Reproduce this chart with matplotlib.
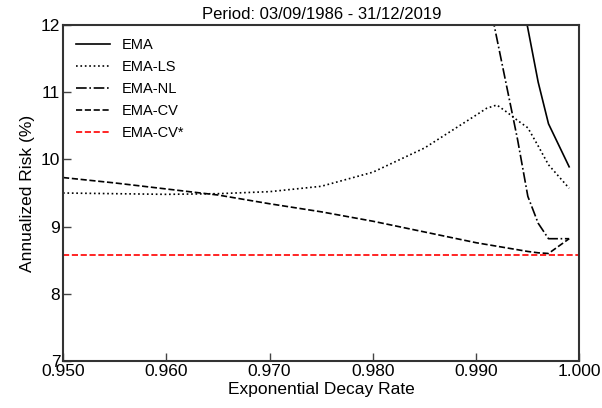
import numpy as np
import matplotlib
matplotlib.use('Agg')
import matplotlib.pyplot as plt

plt.rcParams['font.family'] = ['Liberation Sans', 'DejaVu Sans']

# taxas de decaimento e risco anualizado (%)
x_ema = [0.994, 0.995, 0.996, 0.997, 0.999]
y_ema = [12.70, 11.95, 11.15, 10.53, 9.89]

x_ls = [0.950, 0.955, 0.960, 0.965, 0.970, 0.975, 0.980, 0.985, 0.990,
        0.991, 0.992, 0.993, 0.994, 0.995, 0.996, 0.997, 0.999]
y_ls = [9.50, 9.49, 9.48, 9.49, 9.52, 9.60, 9.81, 10.17, 10.66,
        10.76, 10.81, 10.70, 10.58, 10.47, 10.20, 9.92, 9.57]

x_nl = [0.990, 0.991, 0.992, 0.993, 0.994, 0.995, 0.996, 0.997, 0.999]
y_nl = [13.30, 12.55, 11.80, 11.05, 10.30, 9.45, 9.05, 8.82, 8.82]

x_cv = [0.950, 0.955, 0.960, 0.965, 0.970, 0.975, 0.980, 0.985, 0.990,
        0.995, 0.996, 0.997, 0.999]
y_cv = [9.73, 9.65, 9.56, 9.47, 9.34, 9.22, 9.08, 8.92, 8.76,
        8.63, 8.61, 8.60, 8.82]

cv_star = 8.58

fig = plt.figure(figsize=(6.02, 4.08), dpi=100)
ax = fig.add_axes([0.1047, 0.1152, 0.8579, 0.8235])

lw = 1.2
ax.plot(x_ema, y_ema, '-', color='black', lw=lw, label='EMA')
ax.plot(x_ls, y_ls, ':', color='black', lw=lw, label='EMA-LS')
ax.plot(x_nl, y_nl, '-.', color='black', lw=lw, label='EMA-NL')
ax.plot(x_cv, y_cv, '--', color='black', lw=lw, label='EMA-CV')
ax.axhline(cv_star, ls='--', color='red', lw=lw, label='EMA-CV*')

ax.set_xlim(0.95, 1.0)
ax.set_ylim(7, 12)
ax.set_xticks([0.95, 0.96, 0.97, 0.98, 0.99, 1.0])
ax.set_xticklabels(['0.950', '0.960', '0.970', '0.980', '0.990', '1.000'])
ax.set_yticks([7, 8, 9, 10, 11, 12])

ax.tick_params(direction='in', length=6, width=1, labelsize=12.5,
               color='#444444', pad=2)
for s in ax.spines.values():
    s.set_linewidth(1.5)
    s.set_color('#333333')

ax.set_xlabel('Exponential Decay Rate', fontsize=12.5, labelpad=2)
ax.set_ylabel('Annualized Risk (%)', fontsize=12.5, labelpad=4)
ax.set_title('Period: 03/09/1986 - 31/12/2019', fontsize=12, pad=4)

ax.legend(loc='upper left', frameon=False, fontsize=10.5,
          handlelength=2.3, labelspacing=0.55)

fig.savefig('out.png', dpi=100)
